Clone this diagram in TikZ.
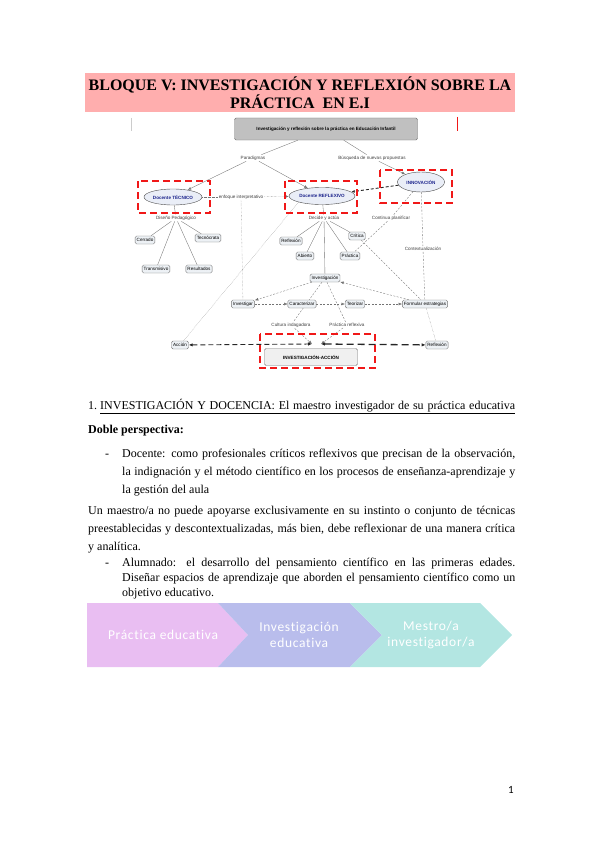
\documentclass[tikz,border=0pt]{standalone}
\usepackage{fontspec}
\setmainfont{Liberation Serif}
\setsansfont{Liberation Sans}
\newfontfamily\calfont{Carlito}
\newfontfamily\chevfont[LetterSpace=5,Ligatures=NoCommon]{Carlito}
\usetikzlibrary{arrows.meta,positioning,shapes.geometric,backgrounds}
\definecolor{titlepink}{RGB}{255,174,174}
\definecolor{rootfill}{RGB}{192,192,192}
\definecolor{leaffill}{RGB}{237,241,245}
\definecolor{ovalfill}{RGB}{234,238,247}
\definecolor{ovalblue}{RGB}{28,36,140}
\definecolor{dashred}{RGB}{240,24,24}
\definecolor{chevpink}{RGB}{233,190,242}
\definecolor{chevblue}{RGB}{185,189,236}
\definecolor{chevteal}{RGB}{179,230,226}
\newcommand{\mapfont}{\sffamily\fontsize{4.6}{5.5}\selectfont}
\newcommand{\jline}[2]{\makebox[#1][s]{#2}}
\tikzset{
  titletxt/.style={text=black, align=center, inner sep=0pt,
    font=\color{black}\bfseries\fontsize{16}{17.5}\selectfont},
  rootbox/.style={draw=black!55, fill=rootfill, rounded corners=1.5pt, minimum width=183pt,
    minimum height=22pt, font=\mapfont\bfseries},
  oval/.style={ellipse, draw=black!70, fill=ovalfill, inner sep=0pt, text=ovalblue,
    font=\mapfont\bfseries},
  leaf/.style={draw=black!55, fill=leaffill, rounded corners=1.5pt, inner sep=1.6pt,
    minimum height=8pt, font=\mapfont},
  linklbl/.style={inner sep=1pt, text=black!75, font=\mapfont},
  redframe/.style={draw=dashred, line width=1.8pt, dash pattern=on 7pt off 4pt},
  link/.style={draw=black!55, line width=0.35pt},
  dotlink/.style={link, densely dotted},
  dashlink/.style={link, dash pattern=on 2pt off 1.5pt},
  tip/.style={-{Latex[length=3.5pt,width=2.8pt]}},
  bigdash/.style={draw=black!85, line width=0.9pt, dash pattern=on 5pt off 3pt,
    {Latex[length=4pt,width=3.4pt]}-{Latex[length=4pt,width=3.4pt]}},
  bodytxt/.style={anchor=base west, inner sep=0pt, font=\fontsize{12}{14}\selectfont},
  chevtxt/.style={inner sep=0pt, text=white, align=center, font=\chevfont\fontsize{13.5}{16}\selectfont},
  pagenum/.style={inner sep=0pt, font=\calfont\fontsize{11}{13}\selectfont}
}

\begin{document}
\begin{tikzpicture}[x=1pt,y=-1pt]
  \useasboundingbox (0,0) rectangle (599,848);

  % title
  \fill[titlepink] (85,73) rectangle (515,112);
  \node[titletxt] (title) at (300,93) {BLOQUE V: INVESTIGACIÓN Y REFLEXIÓN SOBRE LA\\PRÁCTICA~ EN E.I};
  \draw[black!20, line width=0.6pt] (131,118) -- (131,131);
  \draw[dashred, line width=0.6pt] (457,117) -- (457,131);

  % concept map
  \node[rootbox] (root) at (326,129) {Investigación y reflexión sobre la práctica en Educación Infantil};
  \node[linklbl] (paradig) at (253,158) {Paradigmas};
  \node[linklbl] (busq) at (372,158) {Búsqueda de nuevas propuestas};
  \node[oval, minimum width=58pt, minimum height=16pt] (tecnico) at (173,197) {Docente TÉCNICO};
  \node[oval, minimum width=66pt, minimum height=17pt] (reflexivo) at (322,196) {Docente REFLEXIVO};
  \node[oval, minimum width=47pt, minimum height=20pt] (innov) at (421,182) {INNOVACIÓN};
  \node[linklbl] (enfoque) at (241,197) {enfoque interpretativo};
  \node[linklbl] (diseno) at (176,218) {Diseño Pedagógico};
  \node[linklbl] (decide) at (324,218) {Decide y actúa};
  \node[linklbl] (contin) at (391,218) {Continua planificar};
  \node[linklbl] (context) at (423,249) {Contextualización};
  \node[leaf] (cerrado) at (145,240) {Cerrado};
  \node[leaf] (tecnocrata) at (208,238) {Tecnócrata};
  \node[leaf] (transmisivo) at (156,269) {Transmisivo};
  \node[leaf] (resultados) at (199,269) {Resultados};
  \node[leaf] (reflexion) at (291,241) {Reflexión};
  \node[leaf] (abierto) at (305,256) {Abierto};
  \node[leaf] (practica) at (350,256) {Práctica};
  \node[leaf] (critica) at (357,236) {Crítica};
  \node[leaf] (investigacion) at (325,278) {Investigación};
  \node[leaf] (investigar) at (243,304) {Investigar};
  \node[leaf] (caracterizar) at (302,304) {Caracterizar};
  \node[leaf] (teorizar) at (355,304) {Teorizar};
  \node[leaf] (formular) at (425,304) {Formular estrategias};
  \node[linklbl] (cultura) at (291,325) {Cultura indagadora};
  \node[linklbl] (practref) at (347,325) {Práctica reflexiva};
  \node[leaf] (accion) at (180,345) {Acción};
  \node[leaf] (reflexion2) at (437,345) {Reflexión};
  \node[leaf, minimum width=93pt, minimum height=17pt, fill=black!6, font=\mapfont\bfseries] (iaccion) at (311,357) {INVESTIGACIÓN-ACCIÓN};
  \coordinate (hubL) at (312,344);
  \coordinate (hubR) at (321,344);

  \begin{pgfonlayer}{background}
    \draw[link] (root) -- (paradig);
    \draw[link,tip] (paradig) -- (tecnico);
    \draw[link,tip] (paradig) -- (reflexivo);
    \draw[link] (root) -- (busq);
    \draw[link,tip] (busq) -- (innov);
    \draw[dotlink] (tecnico) -- (enfoque);
    \draw[dotlink,tip] (enfoque) -- (reflexivo);
    \draw[dotlink] (enfoque) -- (investigar);
    \draw[link] (tecnico) -- (diseno);
    \foreach \leafname in {cerrado,tecnocrata,transmisivo,resultados}
      \draw[link] (diseno) -- (\leafname);
    \draw[link] (reflexivo) -- (decide);
    \foreach \leafname in {reflexion,abierto,practica,critica,investigacion}
      \draw[link] (decide) -- (\leafname);
    \draw[dotlink] (reflexivo.south west) -- (accion);
    \draw[dashlink] (innov) -- (contin);
    \draw[dashlink] (contin) -- (practica);
    \draw[dashlink] (innov) -- (context);
    \draw[dashlink] (context) -- (formular);
    \draw[dashlink] (critica) -- (formular);
    \draw[dashlink,tip] (formular) -- (investigacion);
    \draw[dashlink,tip] (investigacion) -- (investigar);
    \draw[dashlink,tip] (investigar) -- (caracterizar);
    \draw[dashlink,tip] (caracterizar) -- (teorizar);
    \draw[dashlink,tip] (teorizar) -- (formular);
    \draw[dashlink] (investigacion) -- (cultura);
    \draw[dashlink] (investigacion) -- (practref);
    \draw[dashlink,tip] (cultura) -- (hubL);
    \draw[dashlink,tip] (practref) -- (hubR);
    \draw[dotlink] (formular) -- (reflexion2);
  \end{pgfonlayer}
  \draw[draw=black!85, line width=0.9pt, dash pattern=on 3pt off 2pt, tip] (innov) -- (reflexivo);
  \draw[bigdash] (accion) -- (hubL);
  \draw[bigdash, line width=1.3pt, dash pattern=on 7pt off 4pt] (hubR) -- (reflexion2);

  \draw[redframe] (138,181) rectangle (210,213);
  \draw[redframe] (285,181) rectangle (357,213);
  \draw[redframe] (380,170) rectangle (452,203);
  \draw[redframe] (260,334) rectangle (375,368);

  % text
  \node[bodytxt] (head) at (88,409) {1.\ \underline{\jline{415pt}{INVESTIGACIÓN Y DOCENCIA: El maestro investigador de su práctica educativa}}};
  \node[bodytxt, font=\bfseries\fontsize{12}{14}\selectfont] (doble) at (88,433) {Doble perspectiva:};
  \node[bodytxt] (dash1) at (105,457) {-};
  \node[bodytxt] (doc1) at (122,457) {\jline{393pt}{Docente: como profesionales críticos reflexivos que precisan de la observación,}};
  \node[bodytxt] (doc2) at (122,475) {\jline{393pt}{la indignación y el método científico en los procesos de enseñanza-aprendizaje y}};
  \node[bodytxt] (doc3) at (122,493) {la gestión del aula};
  \node[bodytxt] (par1) at (88,514) {\jline{427pt}{Un maestro/a no puede apoyarse exclusivamente en su instinto o conjunto de técnicas}};
  \node[bodytxt] (par2) at (88,532) {\jline{427pt}{preestablecidas y descontextualizadas, más bien, debe reflexionar de una manera crítica}};
  \node[bodytxt] (par3) at (88,550) {y analítica.};
  \node[bodytxt] (dash2) at (105,566) {-};
  \node[bodytxt] (alu1) at (122,566) {\jline{393pt}{Alumnado: el desarrollo del pensamiento científico en las primeras edades.}};
  \node[bodytxt] (alu2) at (122,581) {\jline{393pt}{Diseñar espacios de aprendizaje que aborden el pensamiento científico como un}};
  \node[bodytxt] (alu3) at (122,596) {objetivo educativo.};

  % chevrons
  \fill[chevpink] (87,603) -- (218,603) -- (248,635) -- (218,667) -- (87,667) -- cycle;
  \fill[chevblue] (218,603) -- (350,603) -- (382,635) -- (350,667) -- (218,667) -- (248,635) -- cycle;
  \fill[chevteal] (350,603) -- (480,603) -- (512,635) -- (480,667) -- (350,667) -- (382,635) -- cycle;
  \node[chevtxt] (chev1) at (163,635) {Práctica educativa};
  \node[chevtxt] (chev2) at (299,635) {Investigación\\educativa};
  \node[chevtxt] (chev3) at (431,635) {Mestro/a\\investigador/a};

  \node[pagenum] (pnum) at (511,790) {1};
\end{tikzpicture}
\end{document}
